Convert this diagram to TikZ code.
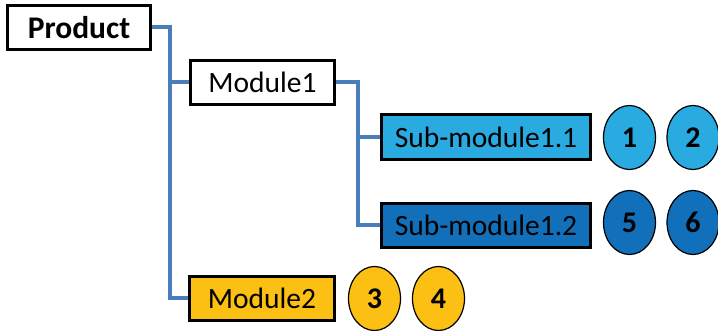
\documentclass[tikz,border=0pt]{standalone}
\usepackage{fontspec}
\setmainfont{Carlito}
\usetikzlibrary{shapes.geometric}
\definecolor{conn}{HTML}{4A7EBB}
\definecolor{lblue}{HTML}{29ABE2}
\definecolor{dblue}{HTML}{1170B9}
\definecolor{yel}{HTML}{FBC013}
\tikzset{
  box/.style={draw=black, line width=3pt, inner sep=0pt, font=\fontsize{29.5}{31}\selectfont},
  num/.style={draw=black, line width=1.2pt, ellipse, inner sep=0pt, minimum width=52pt, minimum height=64pt, font=\fontsize{30}{32}\selectfont\bfseries},
  link/.style={draw=conn, line width=4pt}
}
\begin{document}
\begin{tikzpicture}[x=1pt,y=-1pt]
\useasboundingbox (0,0) rectangle (718,331);
\node[box, minimum width=143pt, minimum height=44pt, font=\fontsize{31.5}{33}\selectfont\bfseries] (P) at (79,27.5) {Product};
\node[box, fill=white, minimum width=144pt, minimum height=44pt] (M1) at (262.5,82.5) {Module1};
\node[box, fill=lblue, minimum width=209pt, minimum height=45pt] (S1) at (486,137) {Sub-module1.1};
\node[box, fill=dblue, minimum width=209pt, minimum height=44pt] (S2) at (486,225.5) {Sub-module1.2};
\node[box, fill=yel, minimum width=145pt, minimum height=44pt] (M2) at (262,298.5) {Module2};
\node[num, fill=lblue] (n1) at (629.5,137.5) {1};
\node[num, fill=lblue] (n2) at (693,137.5) {2};
\node[num, fill=dblue] (n5) at (629.5,222.5) {5};
\node[num, fill=dblue] (n6) at (693,222.5) {6};
\node[num, fill=yel] (n3) at (374.5,298.5) {3};
\node[num, fill=yel] (n4) at (438.5,298.5) {4};
\coordinate (j1) at (170,27.5);
\coordinate (j2) at (358,82.5);
\draw[link] (P.east) -- (j1) |- (M1.west);
\draw[link] (j1) |- (M2.west);
\draw[link] (M1.east) -- (j2) |- (S1.west);
\draw[link] (j2) |- (S2.west);
\end{tikzpicture}
\end{document}
